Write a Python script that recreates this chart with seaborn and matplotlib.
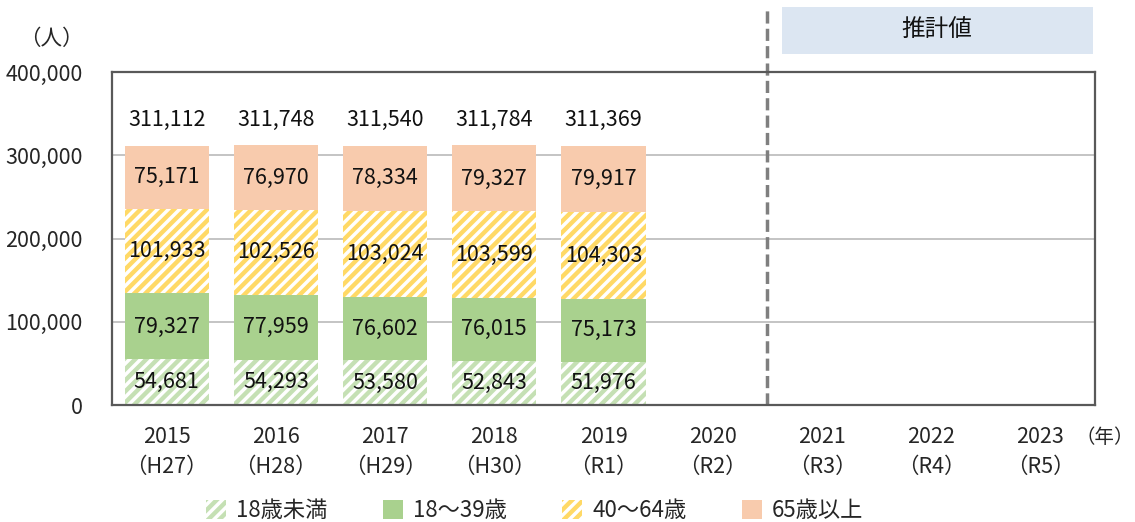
import numpy as np
import pandas as pd
import matplotlib
matplotlib.use("Agg")
import matplotlib.pyplot as plt
import matplotlib.transforms as mtransforms
from matplotlib.patches import Patch, Rectangle
import seaborn as sns

years = ['2015', '2016', '2017', '2018', '2019', '2020', '2021', '2022', '2023']
eras = ['H27', 'H28', 'H29', 'H30', 'R1', 'R2', 'R3', 'R4', 'R5']
under18 = [54681, 54293, 53580, 52843, 51976]
age18_39 = [79327, 77959, 76602, 76015, 75173]
age40_64 = [101933, 102526, 103024, 103599, 104303]
over65 = [75171, 76970, 78334, 79327, 79917]
totals = [311112, 311748, 311540, 311784, 311369]
groups = ['18歳未満', '18～39歳', '40～64歳', '65歳以上']

sns.set_theme(style='white')
plt.rcParams['font.family'] = ['Noto Sans CJK JP', 'DejaVu Sans']
plt.rcParams['hatch.linewidth'] = 2.5

FS = 15.5
c_u18 = '#c5e0b4'
c_1839 = '#a9d18e'
c_4064 = '#ffd966'
c_65 = '#f8cbad'

labels = [f'{y}\n（{e}）' for y, e in zip(years, eras)]
n = len(under18)
df = pd.DataFrame({
    'label': labels[:n],
    'u18': under18,
    'a1839': age18_39,
    'a4064': age40_64,
    'a65': over65,
})
df['c1'] = df['u18']
df['c2'] = df['c1'] + df['a1839']
df['c3'] = df['c2'] + df['a4064']
df['c4'] = df['c3'] + df['a65']

fig = plt.figure(figsize=(11.35, 5.22), dpi=100)
ax = fig.add_axes([0.0987, 0.2241, 0.8661, 0.638])

ax.yaxis.grid(True, color='#bfbfbf', linewidth=1.3)
ax.set_axisbelow(True)

# draw cumulative totals from the top down so each layer covers the one above it
layers = [('c4', c_65, None), ('c3', c_4064, '///'), ('c2', c_1839, None), ('c1', c_u18, '///')]
for col, color, hatch in layers:
    sns.barplot(data=df, x='label', y=col, order=labels, color=color,
                saturation=1, width=0.77, errorbar=None, ax=ax)
    for p in ax.containers[-1]:
        p.set_linewidth(0)
        if hatch:
            p.set_hatch(hatch)
            p.set_edgecolor('white')

ax.set_ylim(0, 400000)
ax.set_xlim(-0.5, 8.5)
yt = [0, 100000, 200000, 300000, 400000]
ax.set_yticks(yt)
ax.set_yticklabels([f'{v:,}' for v in yt], fontsize=FS)
for t in ax.get_xticklabels():
    t.set_linespacing(1.5)
ax.set_xlabel('')
ax.set_ylabel('')
ax.tick_params(axis='x', labelsize=FS, length=0, pad=15)
ax.tick_params(axis='y', direction='in', length=4, width=1.3, color='#595959', pad=21)
for sp in ax.spines.values():
    sp.set_color('#595959')
    sp.set_linewidth(1.6)

ax.set_xticks(np.arange(0.5, 8.5, 1), minor=True)
ax.tick_params(axis='x', which='minor', direction='in', length=5, width=1.3, color='#595959')

# segment labels
for i in range(n):
    segs = [(0, under18[i]), (df['c1'][i], age18_39[i]), (df['c2'][i], age40_64[i]), (df['c3'][i], over65[i])]
    for b, v in segs:
        ax.text(i, b + v / 2, f'{v:,}', ha='center', va='center', fontsize=FS, color='#111111')
    ax.text(i, totals[i] + 31000, f'{totals[i]:,}', ha='center', va='center', fontsize=FS, color='#111111')

# forecast divider and box
ax.axvline(5.5, ymin=0, ymax=1.195, color='#7f7f7f', linestyle=(0, (3.5, 1.5)),
           linewidth=2.5, clip_on=False)
trans = mtransforms.blended_transform_factory(ax.transData, ax.transAxes)
box = Rectangle((5.63, 1.054), 2.85, 0.141, transform=trans, facecolor='#dce6f2',
                edgecolor='none', clip_on=False)
ax.add_patch(box)
ax.text(5.63 + 2.85 / 2, 1.054 + 0.141 / 2, '推計値', transform=trans, ha='center',
        va='center', fontsize=17, color='#111111')

fig.text(0.045, 0.925, '（人）', ha='center', va='center', fontsize=FS)
fig.text(0.999, 0.1628, '（年）', ha='right', va='center', fontsize=14)

handles = [
    Patch(facecolor=c_u18, edgecolor='white', hatch='///', linewidth=0),
    Patch(facecolor=c_1839, edgecolor='none'),
    Patch(facecolor=c_4064, edgecolor='white', hatch='///', linewidth=0),
    Patch(facecolor=c_65, edgecolor='none'),
]
fig.legend(handles, groups, loc='center', bbox_to_anchor=(0.471, 0.022), ncol=4,
           frameon=False, fontsize=16, handlelength=0.9, handleheight=0.9,
           handletextpad=0.45, columnspacing=2.5)

fig.savefig('out.png', dpi=100)
